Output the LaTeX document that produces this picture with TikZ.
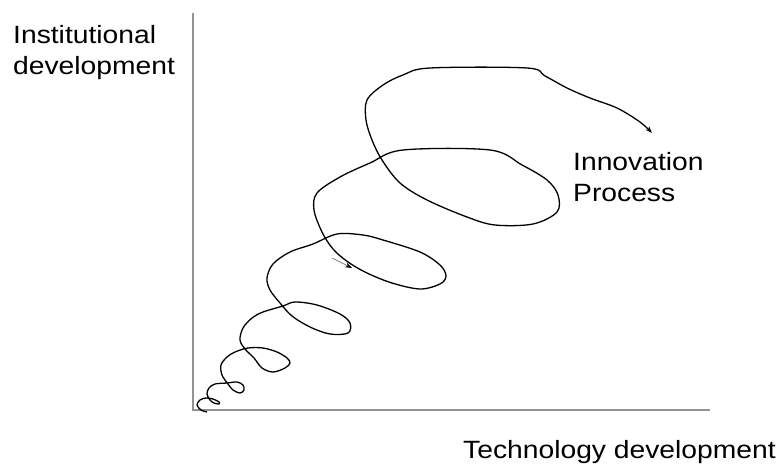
\documentclass[tikz,border=0pt]{standalone}
\usepackage{fontspec}
\setmainfont{Liberation Sans}[FakeStretch=1.13]
\usetikzlibrary{arrows.meta}
\tikzset{
  x=1pt, y=-1pt,
  axis/.style={draw=gray!85, line width=2pt},
  spiral/.style={line width=1.3pt, line join=round, -{Stealth[length=7pt, width=5pt]}},
  hint/.style={draw=gray, line width=0.8pt, -{Stealth[length=7pt, width=5pt, black]}},
  caption/.style={inner sep=0pt, align=left, font=\fontsize{25}{31}\selectfont},
}

\begin{document}
\begin{tikzpicture}
  \useasboundingbox (0,0) rectangle (784,463);
  \coordinate (origin) at (193,410);
  \coordinate (ytop) at (193,13);
  \coordinate (xend) at (710,410);
  \draw[axis] (ytop) -- (origin) -- (xend);
  \node[caption, anchor=north west] (ylabel) at (13,25) {Institutional\\development};
  \node[caption, anchor=base west] (xlabel) at (463,458) {Technology development};
  \node[caption, anchor=north west] (process) at (573,152) {Innovation\\Process};
  % the spiral, from the origin outwards
  \draw[spiral] plot[smooth, tension=0.55] coordinates {
    (207,412) (201,410) (197,405) (200,400) (206,398) (213,399) (219,402) (219,404)
    (214,403) (210,400) (207,394) (209,388) (215,384) (227,383) (237,382) (243,385)
    (244,390) (240,393) (233,390) (228,384) (222,375) (221,365) (227,357) (235,352)
    (248,348) (263,348) (277,352) (287,358) (290,363) (285,368) (273,372) (262,368)
    (254,358) (245,349) (240,340) (243,328) (252,318) (263,312) (283,306) (295,302)
    (317,305) (340,314) (350,323) (348,333) (330,334) (310,327) (292,316) (280,303)
    (270,290) (267,278) (273,264) (290,252) (313,244) (337,234) (363,235) (383,240)
    (420,252) (440,265) (446,276) (440,284) (420,289) (392,283) (367,273) (348,262)
    (333,249) (322,232) (314,210) (317,193) (340,177) (370,163) (403,150) (490,150)
    (522,165) (547,180) (558,195) (557,212) (533,224) (495,225) (467,217) (427,200)
    (400,183) (382,160) (372,140) (366,120) (367,100) (383,85) (403,75) (430,68)
    (527,68) (545,76) (567,88) (590,98) (617,108) (640,122) (652,133)};
  \coordinate (hstart) at (332,258);
  \coordinate (hend) at (352,268);
  \draw[hint] (hstart) -- (hend);
\end{tikzpicture}
\end{document}
